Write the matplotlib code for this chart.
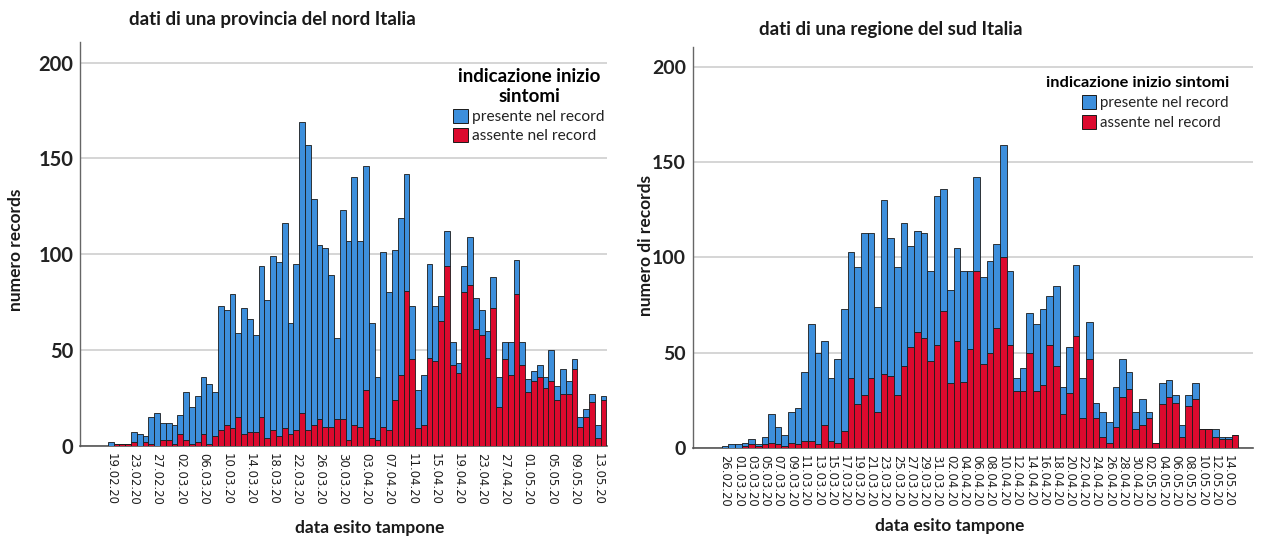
import matplotlib
matplotlib.use("Agg")
import matplotlib.pyplot as plt
from matplotlib.patches import Patch
import numpy as np
import pandas as pd

# ---- data: north (province), daily counts by swab-result date ----
north_dates = pd.date_range("2020-02-19", "2020-05-14").strftime("%d.%m.%y").tolist()
north_total = [2, 1, 1, 1, 7, 6, 5, 15, 17, 12, 12, 11, 16, 28, 20, 26, 36, 32, 28,
               73, 71, 79, 59, 72, 66, 58, 94, 76, 99, 96, 116, 64, 95, 169, 157, 129,
               105, 103, 89, 56, 123, 107, 140, 107, 146, 64, 36, 101, 80, 102, 119,
               142, 73, 29, 37, 95, 73, 78, 112, 54, 43, 94, 109, 77, 71, 60, 88, 36,
               54, 54, 97, 54, 35, 39, 42, 36, 50, 31, 40, 34, 45, 15, 19, 27, 11, 26]
north_absent = [0, 1, 1, 1, 2, 0, 2, 1, 0, 3, 3, 1, 6, 3, 1, 2, 6, 1, 5,
                8, 11, 9, 15, 6, 7, 7, 15, 4, 8, 5, 9, 6, 8, 17, 8, 11,
                14, 10, 10, 14, 14, 3, 11, 10, 29, 4, 3, 10, 8, 24, 37,
                81, 45, 9, 11, 46, 44, 65, 94, 42, 38, 80, 84, 61, 58, 46, 72, 20,
                45, 37, 79, 42, 28, 34, 36, 30, 34, 24, 27, 27, 40, 10, 15, 23, 4, 24]

# ---- data: south (region) ----
south_dates = (["26.02.20", "28.02.20"]
               + pd.date_range("2020-03-01", "2020-05-15").strftime("%d.%m.%y").tolist())
south_total = [1, 2, 2, 3, 5, 2, 6, 18, 11, 7, 19, 21, 40, 65, 50, 56, 37, 47, 73,
               103, 95, 113, 113, 74, 130, 110, 95, 118, 106, 114, 113, 93, 132, 136,
               83, 105, 93, 93, 142, 90, 98, 107, 159, 93, 37, 42, 71, 65, 73, 80, 85,
               32, 53, 96, 37, 66, 24, 19, 14, 32, 47, 40, 19, 26, 19, 3, 34, 36, 28,
               12, 28, 34, 10, 10, 10, 6, 6, 7]
south_absent = [0, 0, 0, 1, 2, 1, 2, 3, 2, 1, 3, 2, 4, 4, 2, 12, 4, 3, 9,
                37, 23, 28, 37, 19, 39, 38, 28, 43, 53, 61, 58, 46, 54, 72,
                34, 56, 35, 52, 93, 44, 50, 63, 100, 54, 30, 30, 50, 30, 33, 54, 43,
                18, 29, 59, 16, 47, 16, 6, 3, 11, 27, 31, 10, 12, 16, 3, 23, 27, 24,
                6, 22, 26, 10, 10, 6, 5, 5, 7]

series_labels = ["presente nel record", "assente nel record"]
legend_title_north = "indicazione inizio\nsintomi"
legend_title_south = "indicazione inizio sintomi"

BLUE = "#3d8fdc"
RED = "#dc0a2e"
W, H = 1268, 541

fig = plt.figure(figsize=(W / 100, H / 100), dpi=100)
fig.patch.set_facecolor("white")

LABEL_FONT = ["Lato", "DejaVu Sans"]


def px(x, y):
    return x / W, 1 - y / H


def draw_panel(rect, dates, total, absent, xlim, ylim, step, ytick_size):
    ax = fig.add_axes(rect)
    total = np.array(total)
    absent = np.array(absent)
    present = total - absent
    x = np.arange(len(dates))
    ax.bar(x, absent, width=1.0, color=RED, edgecolor="#1a1a1a", linewidth=0.6, zorder=3)
    ax.bar(x, present, bottom=absent, width=1.0, color=BLUE, edgecolor="#1a1a1a",
           linewidth=0.6, zorder=3)
    ax.set_xlim(*xlim)
    ax.set_ylim(*ylim)
    ax.set_yticks([0, 50, 100, 150, 200])
    ax.yaxis.grid(True, color="#d2d2d2", linewidth=1.3, zorder=0)
    ax.set_axisbelow(True)
    ticks = x[::step]
    ax.set_xticks(ticks)
    ax.set_xticklabels([dates[i] for i in ticks], rotation=-90, fontsize=8.4,
                       family="DejaVu Sans", color="#1e1e1e")
    ax.tick_params(axis="x", length=0, pad=5)
    ax.tick_params(axis="y", length=0, pad=5)
    for lab in ax.get_yticklabels():
        lab.set_fontfamily(LABEL_FONT)
        lab.set_fontweight("bold")
        lab.set_fontsize(ytick_size)
        lab.set_color("#222222")
    for s in ("top", "right"):
        ax.spines[s].set_visible(False)
    ax.spines["left"].set_color("#666666")
    ax.spines["bottom"].set_color("#555555")
    ax.spines["left"].set_linewidth(1.0)
    ax.spines["bottom"].set_linewidth(1.2)
    return ax


# left panel
axL = draw_panel([80 / W, 1 - 445.7 / H, 527 / W, 403.7 / H],
                 north_dates, north_total, north_absent,
                 (-5.3, 85.6), (0, 210.7), 4, 14.5)
# right panel
axR = draw_panel([693 / W, 1 - 448.3 / H, 560 / W, 401.3 / H],
                 south_dates, south_total, south_absent,
                 (-4.85, 79.7), (0, 210.3), 2, 14)

title_kw = dict(family=LABEL_FONT, fontweight="bold", fontsize=13.5, color="#1a1a1a",
                ha="center", va="center")
fig.text(*px(272, 19), "dati di una provincia del nord Italia", **title_kw)
fig.text(*px(891, 29), "dati di una regione del sud Italia", **title_kw)

axis_kw = dict(family=LABEL_FONT, fontweight="bold", fontsize=12.5, color="#1a1a1a",
               ha="center", va="center")
fig.text(*px(370, 528), "data esito tampone", **axis_kw)
fig.text(*px(950, 526), "data esito tampone", **axis_kw)
fig.text(*px(16, 250), "numero records", rotation=90, **axis_kw)
fig.text(*px(646, 246), "numero di records", rotation=90, **axis_kw)

handles = [Patch(facecolor=BLUE, edgecolor="#1a1a1a", linewidth=0.7),
           Patch(facecolor=RED, edgecolor="#1a1a1a", linewidth=0.7)]


def add_legend(ax, title, anchor, loc, align, title_size, entry_size, spacing):
    leg = ax.legend(handles, series_labels, title=title, loc=loc,
                    bbox_to_anchor=px(*anchor), bbox_transform=fig.transFigure,
                    frameon=False, borderpad=0, borderaxespad=0, alignment=align,
                    handlelength=0.95, handleheight=1.0, handletextpad=0.3,
                    labelspacing=spacing, prop={"family": LABEL_FONT, "size": entry_size})
    leg.get_title().set_fontfamily(LABEL_FONT)
    leg.get_title().set_fontweight("bold")
    leg.get_title().set_fontsize(title_size)
    leg.get_title().set_multialignment("center")
    for t in leg.get_texts():
        t.set_color("#222222")
    return leg


add_legend(axL, legend_title_north, (529, 68), "upper center", "center", 13.5, 11.2, 0.25)
legR = add_legend(axR, legend_title_south, (1229, 76), "upper right", "right", 11.8, 10.8, 0.35)

fig.savefig("out.png", dpi=100, facecolor="white")
